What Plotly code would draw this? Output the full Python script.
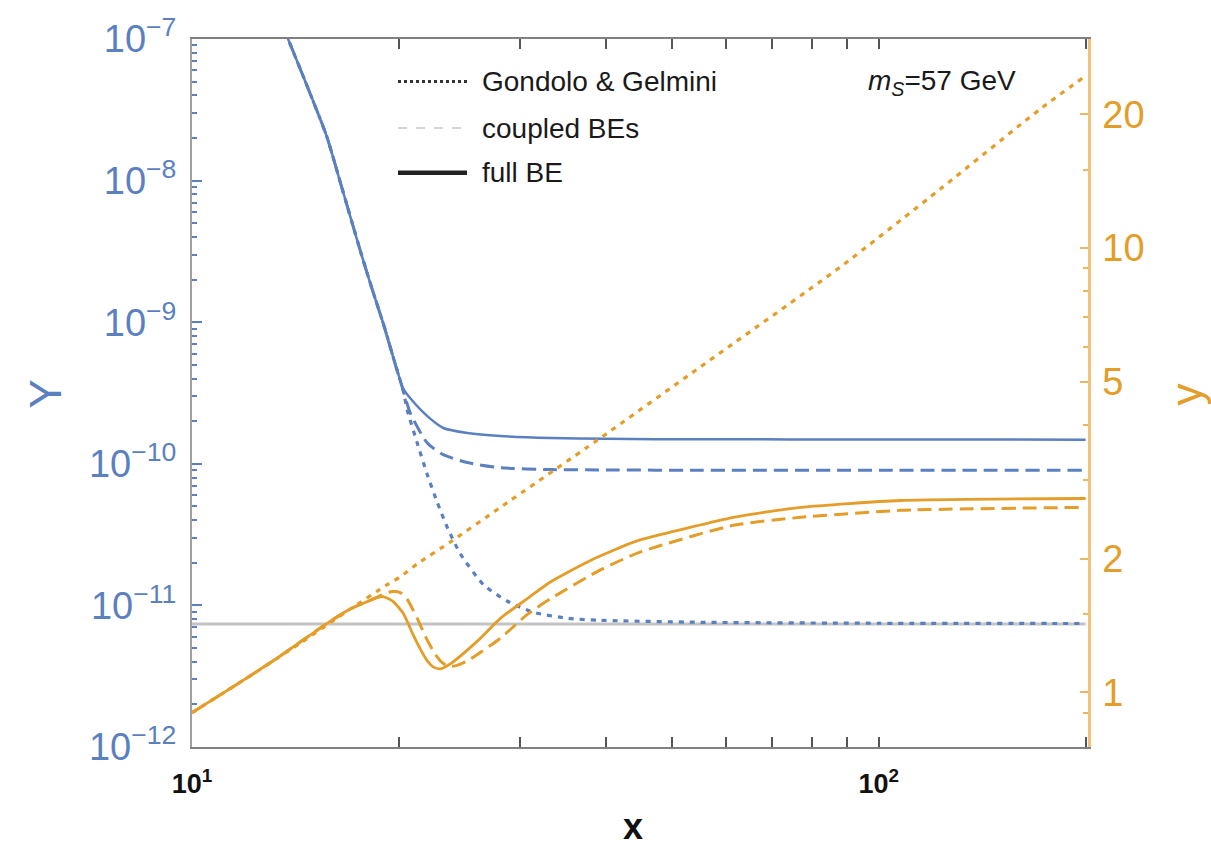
import plotly.graph_objects as go

# ---- comoving yields Y(x) (left axis) ----
blue_full_x = [13.5, 13.8, 14.7, 15.7, 16.6, 17.6, 18.3, 19.0, 19.76, 20.3, 20.79, 22.01, 23.22,
               25.17, 28.12, 33.3, 40, 55, 100, 200]
blue_full_Y = [1.30e-7, 1.0e-7, 4.69e-8, 2.07e-8, 8.28e-9, 3.14e-9, 1.70e-9, 9.7e-10, 5.08e-10,
               3.40e-10, 2.90e-10, 2.17e-10, 1.79e-10, 1.65e-10, 1.57e-10, 1.52e-10, 1.50e-10,
               1.49e-10, 1.485e-10, 1.48e-10]

blue_coupled_x = [13.5, 13.8, 14.7, 15.7, 16.6, 17.6, 18.3, 19.0, 19.76, 20.3, 20.79, 22.01, 23.22,
                  25.17, 28.12, 33.3, 40, 55, 100, 200]
blue_coupled_Y = [1.30e-7, 1.0e-7, 4.69e-8, 2.07e-8, 8.28e-9, 3.14e-9, 1.70e-9, 9.7e-10, 5.08e-10,
                  3.29e-10, 2.28e-10, 1.40e-10, 1.16e-10, 1.02e-10, 9.38e-11, 9.1e-11, 9.05e-11,
                  9.0e-11, 9.0e-11, 9.0e-11]

blue_gg_x = [13.5, 13.8, 14.7, 15.7, 16.6, 17.6, 18.3, 19.0, 19.76, 20.3, 20.58, 21.28, 22.01, 22.76,
             23.53, 24.59, 26.57, 28.79, 31.41, 35.2, 39.33, 55, 100, 200]
blue_gg_Y = [1.30e-7, 1.0e-7, 4.69e-8, 2.07e-8, 8.28e-9, 3.14e-9, 1.70e-9, 9.7e-10, 5.08e-10,
             3.29e-10, 2.39e-10, 1.40e-10, 8.37e-11, 5.33e-11, 3.56e-11, 2.31e-11, 1.40e-11,
             1.07e-11, 8.94e-12, 8.11e-12, 7.85e-12, 7.60e-12, 7.48e-12, 7.45e-12]

ref_x = [10, 200]
ref_Y = [7.4e-12, 7.4e-12]

# ---- y(x) (right axis) ----
orange_full_x = [10, 12.03, 13.44, 15.73, 17.0, 18.0, 18.61, 18.98, 19.63, 20.30, 21.0, 21.5, 22.01,
                 22.45, 22.99, 23.77, 26.03, 28.12, 30.78, 33.3, 38.41, 43.94, 46.52, 61.45, 76.96,
                 107.7, 200]
orange_full_y = [0.90, 1.078, 1.207, 1.43, 1.54, 1.60, 1.634, 1.643, 1.601, 1.506, 1.345, 1.251, 1.177,
                 1.141, 1.129, 1.159, 1.304, 1.467, 1.626, 1.774, 1.996, 2.179, 2.235, 2.477, 2.608,
                 2.703, 2.731]

orange_coupled_x = [10, 12.03, 13.44, 15.73, 17.0, 18.0, 18.98, 19.56, 20.10, 20.58, 21.28, 21.86,
                    22.45, 22.99, 23.53, 24.17, 25.17, 28.12, 30.78, 33.3, 39.33, 44.99, 61.45, 76.96,
                    107.7, 200]
orange_coupled_y = [0.90, 1.078, 1.207, 1.43, 1.54, 1.60, 1.66, 1.686, 1.677, 1.618, 1.467, 1.338,
                    1.239, 1.177, 1.147, 1.147, 1.177, 1.324, 1.498, 1.626, 1.887, 2.070, 2.377, 2.477,
                    2.568, 2.608]

orange_gg_x = [10, 12.15, 14.37, 17.0, 19.24, 20.10, 21.28, 23.77, 28.12, 38.94, 55.0, 88.0, 123.1,
               172.3, 200]
orange_gg_y = [0.90, 1.089, 1.29, 1.54, 1.747, 1.82, 1.946, 2.179, 2.608, 3.697, 5.404, 9.08, 13.61,
               20.63, 24.4]

legend_labels = ["Gondolo & Gelmini", "coupled BEs", "full BE"]

BLUE = "#5B80BF"
ORANGE = "#E39D28"
FONT = "Liberation Sans, Arial, Helvetica, sans-serif"
DASH = "14px,7px"
DOT = "5px,6px"

fig = go.Figure()

fig.add_trace(go.Scatter(x=ref_x, y=ref_Y, mode="lines",
                         line=dict(color="#C4C4C4", width=3), yaxis="y"))
fig.add_trace(go.Scatter(x=blue_gg_x, y=blue_gg_Y, mode="lines",
                         line=dict(color=BLUE, width=3.2, dash=DOT, shape="spline", smoothing=0.6),
                         yaxis="y"))
fig.add_trace(go.Scatter(x=blue_coupled_x, y=blue_coupled_Y, mode="lines",
                         line=dict(color=BLUE, width=3, dash=DASH, shape="spline", smoothing=0.6),
                         yaxis="y"))
fig.add_trace(go.Scatter(x=blue_full_x, y=blue_full_Y, mode="lines",
                         line=dict(color=BLUE, width=2.5, shape="spline", smoothing=0.6),
                         yaxis="y"))

fig.add_trace(go.Scatter(x=orange_gg_x, y=orange_gg_y, mode="lines",
                         line=dict(color=ORANGE, width=3.2, dash=DOT, shape="spline", smoothing=0.6),
                         yaxis="y2"))
fig.add_trace(go.Scatter(x=orange_coupled_x, y=orange_coupled_y, mode="lines",
                         line=dict(color=ORANGE, width=3, dash=DASH, shape="spline", smoothing=0.6),
                         yaxis="y2"))
fig.add_trace(go.Scatter(x=orange_full_x, y=orange_full_y, mode="lines",
                         line=dict(color=ORANGE, width=2.8, shape="spline", smoothing=0.6),
                         yaxis="y2"))

# log minor ticks
left_minor = [m * 10.0 ** k for k in range(-12, -7) for m in range(2, 10)]
x_minor = [m * 10 for m in range(2, 10)] + [200]
right_minor = [0.9, 1.5, 3, 4, 6, 7, 8, 9, 15]

fig.update_layout(
    width=1211, height=851,
    margin=dict(l=192, r=123, t=32, b=104),
    paper_bgcolor="white", plot_bgcolor="white",
    showlegend=False,
    font=dict(family=FONT),
    xaxis=dict(
        type="log", range=[1, 2.3045],
        showgrid=False, zeroline=False,
        showline=True, linecolor="#808080", linewidth=2, mirror="allticks",
        ticks="inside", ticklen=10, tickwidth=1.5, tickcolor="#555555",
        tickvals=[10, 100], ticktext=["<b>10<sup>1</sup></b>", "<b>10<sup>2</sup></b>"],
        tickfont=dict(size=27, color="#111111", family=FONT),
        ticklabelstandoff=12,
        minor=dict(tickvals=x_minor, ticks="inside", ticklen=6, tickwidth=1.5,
                   tickcolor="#555555", showgrid=False),
    ),
    yaxis=dict(
        type="log", range=[-12, -7],
        showgrid=False, zeroline=False,
        showline=True, linecolor="#A0A0A0", linewidth=2,
        ticks="inside", ticklen=10, tickwidth=1.5, tickcolor=BLUE,
        tickvals=[1e-12, 1e-11, 1e-10, 1e-9, 1e-8, 1e-7],
        ticktext=["10<sup>\u221212</sup>", "10<sup>\u221211</sup>", "10<sup>\u221210</sup>",
                  "10<sup>\u22129</sup>", "10<sup>\u22128</sup>", "10<sup>\u22127</sup>"],
        tickfont=dict(size=38, color=BLUE, family=FONT),
        ticklabelstandoff=6,
        minor=dict(tickvals=left_minor, ticks="inside", ticklen=5, tickwidth=1.5,
                   tickcolor=BLUE, showgrid=False),
    ),
    yaxis2=dict(
        type="log", range=[-0.123, 1.4705],
        overlaying="y", side="right", anchor="x",
        showgrid=False, zeroline=False,
        showline=True, linecolor="#F0C27A", linewidth=2.5,
        ticks="inside", ticklen=8, tickwidth=1.5, tickcolor="#EDB664",
        tickvals=[1, 2, 5, 10, 20], ticktext=["1", "2", "5", "10", "20"],
        tickfont=dict(size=38, color=ORANGE, family=FONT),
        ticklabelstandoff=4,
        minor=dict(tickvals=right_minor, ticks="inside", ticklen=5, tickwidth=1.5,
                   tickcolor="#EDB664", showgrid=False),
    ),
)


def px_x(p):
    return (p - 192) / 896.0


def px_y(p):
    return (747 - p) / 715.0


# hand-drawn key
key_rows = [75, 122, 167]
key_styles = [dict(color="#333333", width=3, dash="dot"),
              dict(color="#C8C8C8", width=1.5, dash="dash"),
              dict(color="#222222", width=4.5)]
for row, style, label in zip(key_rows, key_styles, legend_labels):
    fig.add_shape(type="line", xref="paper", yref="paper",
                  x0=px_x(398), x1=px_x(467), y0=px_y(row), y1=px_y(row), line=style)
    fig.add_annotation(xref="paper", yref="paper", x=px_x(480), y=px_y(row),
                       xanchor="left", yanchor="middle", showarrow=False, text=label,
                       font=dict(size=28, color="#1A1A1A", family=FONT))

fig.add_annotation(xref="paper", yref="paper", x=px_x(866), y=px_y(76),
                   xanchor="left", yanchor="middle", showarrow=False,
                   text="<i>m</i><sub><i>S</i></sub>=57 GeV",
                   font=dict(size=28, color="#1A1A1A", family=FONT))

# axis titles
fig.add_annotation(xref="paper", yref="paper", x=px_x(45), y=px_y(391),
                   xanchor="center", yanchor="middle", showarrow=False, text="Y",
                   textangle=-90, font=dict(size=44, color=BLUE, family=FONT))
fig.add_annotation(xref="paper", yref="paper", x=px_x(1186), y=px_y(391),
                   xanchor="center", yanchor="middle", showarrow=False, text="y",
                   textangle=-90, font=dict(size=44, color=ORANGE, family=FONT))
fig.add_annotation(xref="paper", yref="paper", x=px_x(633), y=px_y(850),
                   xanchor="center", yanchor="bottom", showarrow=False, text="<b>x</b>",
                   font=dict(size=36, color="#111111", family=FONT))

fig.write_html("out.html")
